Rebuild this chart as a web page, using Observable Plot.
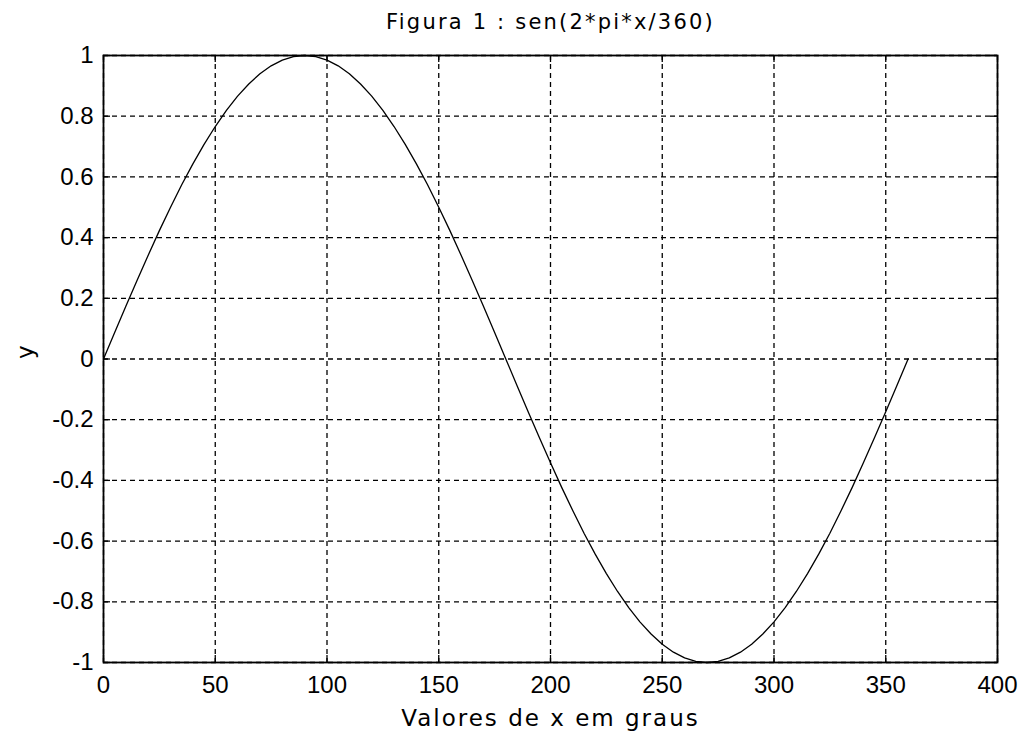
<!DOCTYPE html>
<html>
<head>
<meta charset="utf-8">
<script src="https://cdn.jsdelivr.net/npm/d3@7"></script>
<script src="https://cdn.jsdelivr.net/npm/@observablehq/plot@0.6"></script>
<style>
  html, body { margin: 0; padding: 0; background: #fff; }
  #chart svg { display: block; }
</style>
</head>
<body>
<div id="chart"></div>
<script>
// Data (degrees, value)
const xDeg = [0,5,10,15,20,25,30,35,40,45,50,55,60,65,70,75,80,85,90,
  95,100,105,110,115,120,125,130,135,140,145,150,155,160,165,170,175,180,
  185,190,195,200,205,210,215,220,225,230,235,240,245,250,255,260,265,270,
  275,280,285,290,295,300,305,310,315,320,325,330,335,340,345,350,355,360];
const yVal = [0,0.087,0.174,0.259,0.342,0.423,0.5,0.574,0.643,0.707,0.766,0.819,0.866,0.906,0.94,0.966,0.985,0.996,1,
  0.996,0.985,0.966,0.94,0.906,0.866,0.819,0.766,0.707,0.643,0.574,0.5,0.423,0.342,0.259,0.174,0.087,0,
  -0.087,-0.174,-0.259,-0.342,-0.423,-0.5,-0.574,-0.643,-0.707,-0.766,-0.819,-0.866,-0.906,-0.94,-0.966,-0.985,-0.996,-1,
  -0.996,-0.985,-0.966,-0.94,-0.906,-0.866,-0.819,-0.766,-0.707,-0.643,-0.574,-0.5,-0.423,-0.342,-0.259,-0.174,-0.087,0];
const xTicks = [0,50,100,150,200,250,300,350,400];
const yTicks = [-1,-0.8,-0.6,-0.4,-0.2,0,0.2,0.4,0.6,0.8,1];
const titleText = "Figura 1 : sen(2*pi*x/360)";
const xLabel = "Valores de x em graus";
const yLabel = "y";

const data = xDeg.map((x, i) => ({x, y: yVal[i]}));

const W = 1024, H = 731;
const mL = 103, mR = 27, mT = 55, mB = 69;
const plotH = H - mT - mB, plotW = W - mL - mR;
const tickLen = 7;
const font = "'Liberation Sans', Arial, sans-serif";
const wide = "'DejaVu Sans', Verdana, sans-serif";
const fmt = d => String(+d.toFixed(1));

const chart = Plot.plot({
  width: W,
  height: H,
  marginLeft: mL, marginRight: mR, marginTop: mT, marginBottom: mB,
  style: {fontFamily: font, color: "#000", background: "#fff"},
  x: {domain: [0, 400], ticks: xTicks},
  y: {domain: [-1, 1], ticks: yTicks},
  marks: [
    Plot.ruleX(xTicks, {stroke: "#000", strokeDasharray: "5,4", strokeWidth: 1.3}),
    Plot.ruleY(yTicks, {stroke: "#000", strokeDasharray: "5,4", strokeWidth: 1.3}),
    Plot.tickX(xTicks, {x: d => d, stroke: "#000", strokeWidth: 1.3, insetTop: plotH - tickLen}),
    Plot.tickX(xTicks, {x: d => d, stroke: "#000", strokeWidth: 1.3, insetBottom: plotH - tickLen}),
    Plot.tickY(yTicks, {y: d => d, stroke: "#000", strokeWidth: 1.3, insetRight: plotW - tickLen}),
    Plot.tickY(yTicks, {y: d => d, stroke: "#000", strokeWidth: 1.3, insetLeft: plotW - tickLen}),
    Plot.frame({stroke: "#000", strokeWidth: 1.8}),
    Plot.line(data, {x: "x", y: "y", stroke: "#000", strokeWidth: 1.3}),
    Plot.axisX(xTicks, {tickSize: 0, tickPadding: 13, fontSize: 24, tickFormat: fmt, label: null}),
    Plot.axisY(yTicks, {tickSize: 0, tickPadding: 10, fontSize: 24, tickFormat: fmt, label: null}),
    Plot.text([titleText], {frameAnchor: "top", dy: -27, lineAnchor: "bottom", fontSize: 21, fontFamily: wide, fill: "#000"}),
    Plot.text([xLabel], {frameAnchor: "bottom", dy: 63, lineAnchor: "bottom", fontSize: 23, fontFamily: wide, fill: "#000"}),
    Plot.text([yLabel], {frameAnchor: "left", dx: -78, rotate: -90, fontSize: 23, fontFamily: wide, fill: "#000"})
  ]
});
// letter spacing for the wide, bitmap-like title and x label
d3.select(chart).selectAll("text").each(function() {
  const t = this.textContent;
  if (t === titleText) this.setAttribute("letter-spacing", "2.2");
  if (t === xLabel) this.setAttribute("letter-spacing", "2");
});
document.getElementById("chart").appendChild(chart);
</script>
</body>
</html>
